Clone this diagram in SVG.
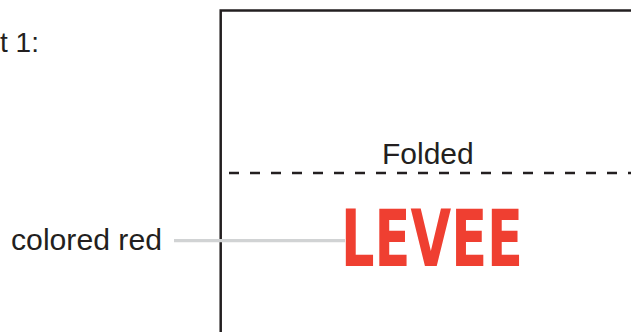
<svg xmlns="http://www.w3.org/2000/svg" width="631" height="332" viewBox="0 0 631 332">
  <style>
    .lbl { font-family: "Liberation Sans", Arial, sans-serif; font-size: 30px; fill: #231f20; }
    .frame { fill: none; stroke: #231f20; stroke-width: 2.5; }
    .fold { fill: none; stroke: #231f20; stroke-width: 2.6; stroke-dasharray: 10 11; }
    .leader { fill: none; stroke: #d1d3d4; stroke-width: 3.3; }
    .levee { font-family: "DejaVu Sans", "Liberation Sans", sans-serif; font-weight: bold; font-size: 78px; fill: #ef3f31; }
  </style>
  <rect width="631" height="332" fill="#ffffff"/>
  <g id="frame">
    <path class="frame" d="M220.7,332 V10.5 H632"/>
  </g>
  <g id="title">
    <text class="lbl" x="0" y="52" style="font-size:28px">t 1:</text>
  </g>
  <g id="fold-line">
    <path class="fold" d="M229,173 H631"/>
    <text class="lbl" x="382" y="164">Folded</text>
  </g>
  <g id="connectors">
    <path class="leader" d="M174,240.7 H345"/>
  </g>
  <g id="callout">
    <text class="lbl" x="11" y="249.5" textLength="151" lengthAdjust="spacingAndGlyphs">colored red</text>
  </g>
  <g id="levee">
    <text class="levee" x="341" y="266" textLength="182" lengthAdjust="spacingAndGlyphs">LEVEE</text>
  </g>
</svg>
